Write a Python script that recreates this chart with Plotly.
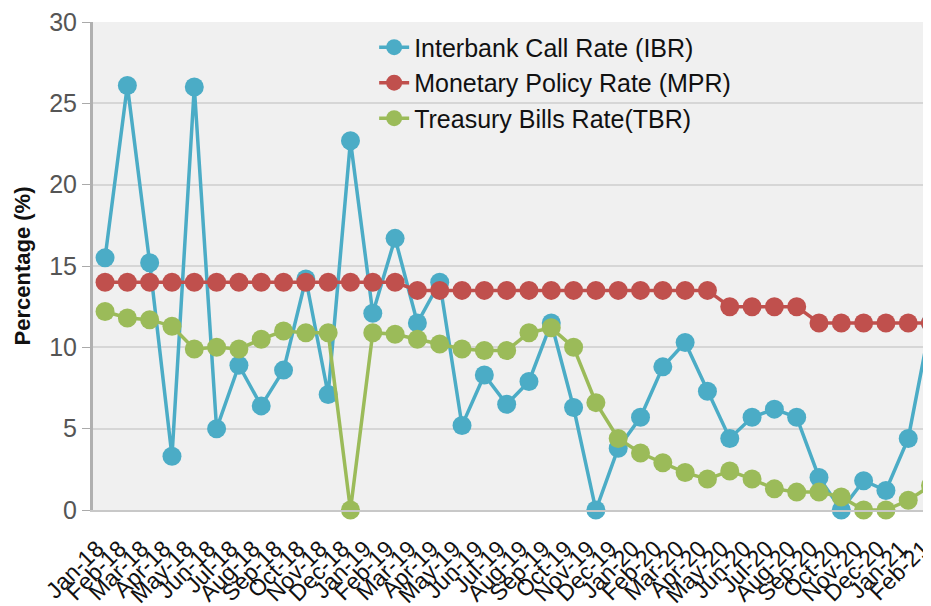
import plotly.graph_objects as go

months = ["Jan-18","Feb-18","Mar-18","Apr-18","May-18","Jun-18","Jul-18","Aug-18","Sep-18","Oct-18","Nov-18","Dec-18",
          "Jan-19","Feb-19","Mar-19","Apr-19","May-19","Jun-19","Jul-19","Aug-19","Sep-19","Oct-19","Nov-19","Dec-19",
          "Jan-20","Feb-20","Mar-20","Apr-20","May-20","Jun-20","Jul-20","Aug-20","Sep-20","Oct-20","Nov-20","Dec-20",
          "Jan-21","Feb-21"]

ibr = [15.5, 26.1, 15.2, 3.3, 26.0, 5.0, 8.9, 6.4, 8.6, 14.2, 7.1, 22.7,
       12.1, 16.7, 11.5, 14.0, 5.2, 8.3, 6.5, 7.9, 11.5, 6.3, 0.0, 3.8,
       5.7, 8.8, 10.3, 7.3, 4.4, 5.7, 6.2, 5.7, 2.0, 0.0, 1.8, 1.2,
       4.4, 11.5]

mpr = [14, 14, 14, 14, 14, 14, 14, 14, 14, 14, 14, 14,
       14, 14, 13.5, 13.5, 13.5, 13.5, 13.5, 13.5, 13.5, 13.5, 13.5, 13.5,
       13.5, 13.5, 13.5, 13.5, 12.5, 12.5, 12.5, 12.5, 11.5, 11.5, 11.5, 11.5,
       11.5, 11.5]

tbr = [12.2, 11.8, 11.7, 11.3, 9.9, 10.0, 9.9, 10.5, 11.0, 10.9, 10.9, 0.0,
       10.9, 10.8, 10.5, 10.2, 9.9, 9.8, 9.8, 10.9, 11.2, 10.0, 6.6, 4.4,
       3.5, 2.9, 2.3, 1.9, 2.4, 1.9, 1.3, 1.1, 1.1, 0.8, 0.0, 0.0,
       0.6, 1.5]

y_ticks = [0, 5, 10, 15, 20, 25, 30]

series = [
    ("Interbank Call Rate (IBR)", ibr, "#4bacc6"),
    ("Monetary Policy Rate (MPR)", mpr, "#c0504d"),
    ("Treasury Bills Rate(TBR)", tbr, "#9bbb59"),
]

fig = go.Figure()
for name, vals, col in series:
    fig.add_trace(go.Scatter(
        x=list(range(len(months))), y=vals, name=name, mode="lines+markers",
        line=dict(color=col, width=3.5),
        marker=dict(color=col, size=19, symbol="circle"),
        cliponaxis=False,
    ))

# page body has an 8px default margin, so the figure is offset by 8px
fig.update_layout(
    width=931, height=606,
    margin=dict(l=85, r=8, t=14, b=104, autoexpand=False),
    paper_bgcolor="white",
    plot_bgcolor="#f0f0f0",
    font=dict(family="Liberation Sans, Arial, sans-serif", size=22, color="#333"),
    showlegend=True,
    legend=dict(
        x=0.3355, y=0.995, xanchor="left", yanchor="top",
        bgcolor="rgba(0,0,0,0)", borderwidth=0,
        font=dict(size=25, color="#111"),
        tracegroupgap=0, itemwidth=30,
    ),
)

fig.update_xaxes(
    range=[-0.54, 37.02],
    tickmode="array",
    tickvals=list(range(len(months))),
    ticktext=months,
    tickangle=-45,
    tickfont=dict(size=23, color="#111"),
    ticklabelstandoff=14,
    ticklabelshift=-8,
    ticklabeloverflow="allow",
    showgrid=False,
    showline=True, linecolor="#c8c8c8", linewidth=2,
    ticks="", zeroline=False, automargin=False,
)

fig.update_yaxes(
    range=[0, 30],
    tickmode="array",
    tickvals=y_ticks,
    tickfont=dict(size=25, color="#555"),
    ticklabeloverflow="allow",
    showgrid=True, gridcolor="#d6d6d6", gridwidth=2,
    showline=True, linecolor="#b0b0b0", linewidth=3,
    ticks="outside", ticklen=8, tickcolor="#aaa", tickwidth=1,
    zeroline=False, automargin=False,
    title=dict(text="<b>Percentage (%)</b>", font=dict(size=22, color="#111"), standoff=13),
)

fig.write_html("out.html")
